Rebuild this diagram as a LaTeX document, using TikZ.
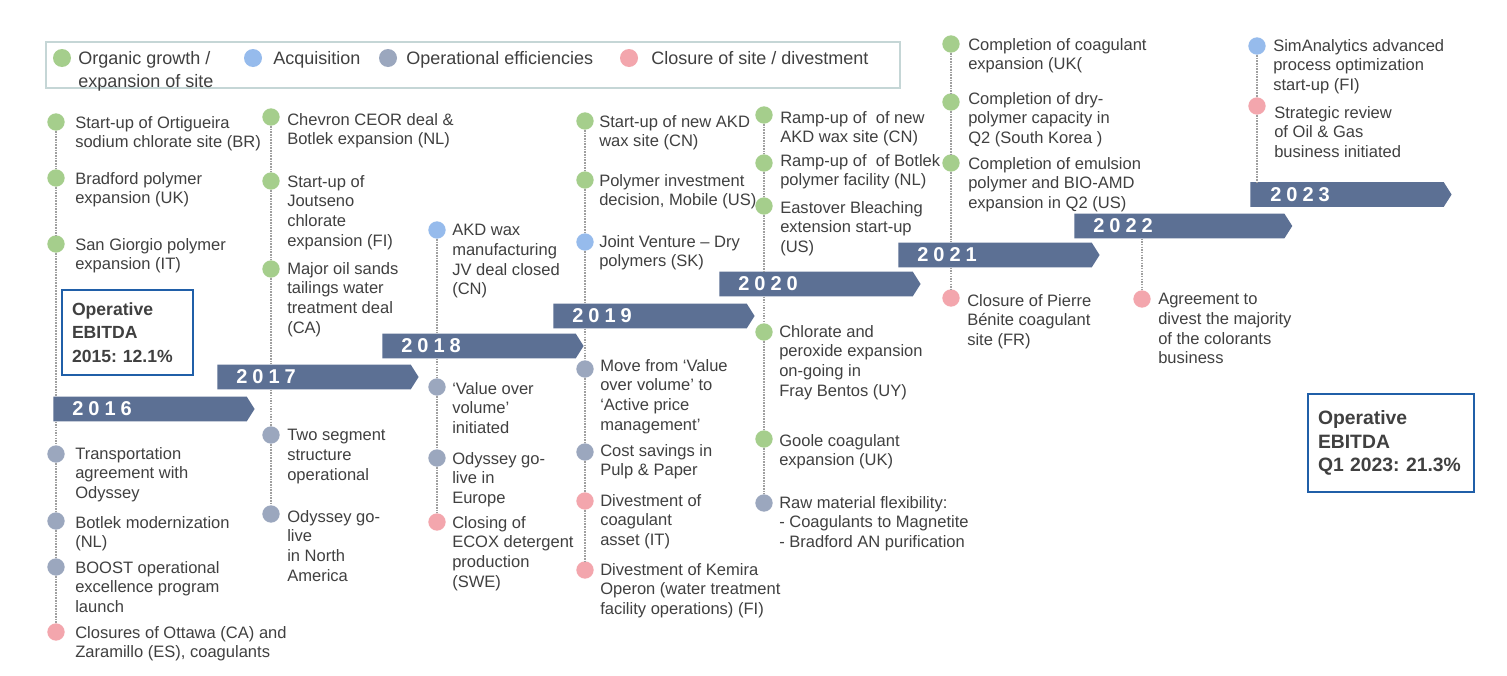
\documentclass[tikz,border=0pt]{standalone}
\usepackage{fontspec}
\setmainfont{Liberation Sans}
\newfontfamily\yearfont[LetterSpace=25]{Liberation Sans}
\usetikzlibrary{shapes.symbols}
\definecolor{txtgray}{RGB}{64,64,64}
\definecolor{growth}{RGB}{165,206,140}
\definecolor{acq}{RGB}{150,187,236}
\definecolor{opeff}{RGB}{155,167,190}
\definecolor{closure}{RGB}{243,166,173}
\definecolor{bannerblue}{RGB}{92,112,148}
\definecolor{legendline}{RGB}{197,214,214}
\definecolor{boxblue}{RGB}{32,95,168}
\definecolor{linegray}{RGB}{160,160,160}
\tikzset{
  evdot/.style={circle, inner sep=0pt, minimum size=13pt},
  lgdot/.style={circle, inner sep=0pt, minimum size=13.5pt},
  evtext/.style={anchor=north west, align=left, inner sep=0pt, text=txtgray,
    font=\fontsize{12.4pt}{14.8pt}\selectfont},
  lgtext/.style={anchor=north west, align=left, inner sep=0pt, text=txtgray,
    font=\fontsize{13.5pt}{17.25pt}\selectfont},
  banner/.style={signal, signal to=east, signal from=nowhere, signal pointer angle=115,
    fill=bannerblue, draw=none, inner sep=0pt, minimum height=18.4pt, minimum width=151pt, anchor=west},
  yeartxt/.style={anchor=west, inner sep=0pt, text=white,
    font=\yearfont\bfseries\fontsize{15pt}{18pt}\selectfont},
  vline/.style={draw=linegray, line width=0.9pt, dash pattern=on 1.2pt off 0.8pt},
  ebitda/.style={draw=boxblue, line width=1.5pt, align=left, text=txtgray, inner ysep=0pt, inner xsep=7.5pt}
}
\begin{document}
\begin{tikzpicture}[x=0.75pt, y=-0.75pt]
    \useasboundingbox[fill=white] (0, 0) rectangle (1507, 675);
    \draw[legendline, line width=1.2pt] (46, 42) rectangle (900, 88);
        \node[lgdot, fill=growth] (lgA) at (62, 58){};
        \node[lgtext] (lgAt) at (78, 51.5){Organic growth /\\expansion of site};
        \node[lgdot, fill=acq] (lgB) at (253, 58){};
        \node[lgtext] (lgBt) at (273, 51.5){Acquisition};
        \node[lgdot, fill=opeff] (lgC) at (388, 58){};
        \node[lgtext] (lgCt) at (406, 51.5){Operational efficiencies};
        \node[lgdot, fill=closure] (lgD) at (629, 58){};
        \node[lgtext] (lgDt) at (651, 51.5){Closure of site / divestment};

    \node[banner] (y16) at (53, 409){};
        \node[yeartxt] at (72, 409){2016};
    \node[banner] (y17) at (217, 377){};
        \node[yeartxt] at (236, 377){2017};
    \node[banner] (y18) at (382, 346){};
        \node[yeartxt] at (401, 346){2018};
    \node[banner] (y19) at (553, 316){};
        \node[yeartxt] at (572, 316){2019};
    \node[banner] (y20) at (719, 284){};
        \node[yeartxt] at (738, 284){2020};
    \node[banner] (y21) at (898, 255){};
        \node[yeartxt] at (917, 255){2021};
    \node[banner, minimum width=163.5pt] (y22) at (1074, 226){};
        \node[yeartxt] at (1093, 226){2022};
    \node[banner] (y23) at (1250, 194.5){};
        \node[yeartxt] at (1270, 194.5){2023};

    \node[evdot, fill=growth] (o16a) at (56, 122){};
        \node[evtext] (t16a) at (75, 116){Start-up of Ortigueira\\sodium chlorate site (BR)};
    \node[evdot, fill=growth] (o16b) at (56, 178){};
        \node[evtext] (t16b) at (75, 172){Bradford polymer\\expansion (UK)};
    \node[evdot, fill=growth] (o16c) at (56, 244){};
        \node[evtext] (t16c) at (75, 238){San Giorgio polymer\\expansion (IT)};
    \node[evdot, fill=opeff] (o16d) at (56, 454){};
        \node[evtext] (t16d) at (75, 447){Transportation\\agreement with\\Odyssey};
    \node[evdot, fill=opeff] (o16e) at (56, 521){};
        \node[evtext] (t16e) at (75, 516){Botlek modernization\\(NL)};
    \node[evdot, fill=opeff] (o16f) at (56, 567){};
        \node[evtext] (t16f) at (75, 561){BOOST operational\\excellence program\\launch};
    \node[evdot, fill=closure] (o16g) at (56, 632){};
        \node[evtext] (t16g) at (75, 626){Closures of Ottawa (CA) and\\Zaramillo (ES), coagulants};
    \draw[vline] (o16a) -- (o16b) -- (o16c) -- (o16c |- y16.north);
    \draw[vline] (o16d |- y16.south) -- (o16d) -- (o16e) -- (o16f) -- (o16g);

    \node[evdot, fill=growth] (o17a) at (271, 117){};
        \node[evtext] (t17a) at (287, 113){Chevron CEOR deal \&\\Botlek expansion (NL)};
    \node[evdot, fill=growth] (o17b) at (271, 181){};
        \node[evtext] (t17b) at (287, 175){Start-up of\\Joutseno\\chlorate\\expansion (FI)};
    \node[evdot, fill=growth] (o17c) at (271, 269){};
        \node[evtext] (t17c) at (287, 262){Major oil sands\\tailings water\\treatment deal\\(CA)};
    \node[evdot, fill=opeff] (o17d) at (271, 435){};
        \node[evtext] (t17d) at (287, 429){Two segment\\structure\\operational};
    \node[evdot, fill=opeff] (o17e) at (271, 514){};
        \node[evtext] (t17e) at (287, 510){Odyssey go-\\live\\in North\\America};
    \draw[vline] (o17a) -- (o17b) -- (o17c) -- (o17c |- y17.north);
    \draw[vline] (o17d |- y17.south) -- (o17d) -- (o17e);

    \node[evdot, fill=acq] (o18a) at (437, 230){};
        \node[evtext] (t18a) at (452, 224){AKD wax\\manufacturing\\JV deal closed\\(CN)};
    \node[evdot, fill=opeff] (o18b) at (437, 387){};
        \node[evtext] (t18b) at (452, 382){‘Value over\\volume’\\initiated};
    \node[evdot, fill=opeff] (o18c) at (437, 458){};
        \node[evtext] (t18c) at (452, 452){Odyssey go-\\live in\\Europe};
    \node[evdot, fill=closure] (o18d) at (437, 522){};
        \node[evtext] (t18d) at (452, 516){Closing of\\ECOX detergent\\production\\(SWE)};
    \draw[vline] (o18a) -- (o18a |- y18.north);
    \draw[vline] (o18b |- y18.south) -- (o18b) -- (o18c) -- (o18d);

    \node[evdot, fill=growth] (o19a) at (585, 121){};
        \node[evtext] (t19a) at (599, 115){Start-up of new AKD\\wax site (CN)};
    \node[evdot, fill=growth] (o19b) at (585, 180){};
        \node[evtext] (t19b) at (599, 174){Polymer investment\\decision, Mobile (US)};
    \node[evdot, fill=acq] (o19c) at (585, 242){};
        \node[evtext] (t19c) at (599, 235){Joint Venture – Dry\\polymers (SK)};
    \node[evdot, fill=opeff] (o19d) at (585, 369){};
        \node[evtext] (t19d) at (600, 359){Move from ‘Value\\over volume’ to\\‘Active price\\management’};
    \node[evdot, fill=opeff] (o19e) at (585, 452){};
        \node[evtext] (t19e) at (600, 444){Cost savings in\\Pulp \& Paper};
    \node[evdot, fill=closure] (o19f) at (585, 501){};
        \node[evtext] (t19f) at (600, 494){Divestment of\\coagulant\\asset (IT)};
    \node[evdot, fill=closure] (o19g) at (585, 570){};
        \node[evtext] (t19g) at (600, 563){Divestment of Kemira\\Operon (water treatment\\facility operations) (FI)};
    \draw[vline] (o19a) -- (o19b) -- (o19c) -- (o19c |- y19.north);
    \draw[vline] (o19d |- y19.south) -- (o19d) -- (o19e) -- (o19f) -- (o19g);

    \node[evdot, fill=growth] (o20a) at (764, 115){};
        \node[evtext] (t20a) at (780, 111){Ramp-up of \ of new\\AKD wax site (CN)};
    \node[evdot, fill=growth] (o20b) at (764, 163){};
        \node[evtext] (t20b) at (780, 154){Ramp-up of \ of Botlek\\polymer facility (NL)};
    \node[evdot, fill=growth] (o20c) at (764, 206){};
        \node[evtext] (t20c) at (780, 201){Eastover Bleaching\\extension start-up\\(US)};
    \node[evdot, fill=growth] (o20d) at (764, 332){};
        \node[evtext] (t20d) at (779, 325){Chlorate and\\peroxide expansion\\on-going in\\Fray Bentos (UY)};
    \node[evdot, fill=growth] (o20e) at (764, 439){};
        \node[evtext] (t20e) at (779, 434){Goole coagulant\\expansion (UK)};
    \node[evdot, fill=opeff] (o20f) at (764, 503){};
        \node[evtext] (t20f) at (779, 496){Raw material flexibility:\\- Coagulants to Magnetite\\- Bradford AN purification};
    \draw[vline] (o20a) -- (o20b) -- (o20c) -- (o20c |- y20.north);
    \draw[vline] (o20d |- y20.south) -- (o20d) -- (o20e) -- (o20f);

    \node[evdot, fill=growth] (o21a) at (951, 44){};
        \node[evtext] (t21a) at (968, 38){Completion of coagulant\\expansion (UK(};
    \node[evdot, fill=growth] (o21b) at (951, 102){};
        \node[evtext] (t21b) at (968, 92){Completion of dry-\\polymer capacity in\\Q2 (South Korea )};
    \node[evdot, fill=growth] (o21c) at (951, 163){};
        \node[evtext] (t21c) at (968, 157){Completion of emulsion\\polymer and BIO-AMD\\expansion in Q2 (US)};
    \node[evdot, fill=closure] (o21d) at (951, 298){};
        \node[evtext] (t21d) at (967, 294){Closure of Pierre\\Bénite coagulant\\site (FR)};
    \draw[vline] (o21a) -- (o21b) -- (o21c) -- (o21c |- y21.north);
    \draw[vline] (o21d |- y21.south) -- (o21d);

    \node[evdot, fill=closure] (o22a) at (1142, 299){};
        \node[evtext] (t22a) at (1158, 293){Agreement to\\divest the majority\\of the colorants\\business};
    \draw[vline] (o22a |- y22.south) -- (o22a);

    \node[evdot, fill=acq] (o23a) at (1257, 46){};
        \node[evtext] (t23a) at (1273, 39){SimAnalytics advanced\\process optimization\\start-up (FI)};
    \node[evdot, fill=closure] (o23b) at (1257, 106){};
        \node[evtext] (t23b) at (1274, 106){Strategic review\\of Oil \& Gas\\business initiated};
    \draw[vline] (o23a) -- (o23b) -- (o23b |- y23.north);

    \node[ebitda, font=\bfseries\fontsize{13.2pt}{17.6pt}\selectfont, text width=83.25pt,
        minimum width=98.25pt, minimum height=63.75pt] (eb15) at (127.5, 332.5){Operative\\EBITDA\\2015:~12.1\%};
    \node[ebitda, font=\bfseries\fontsize{14.5pt}{17.6pt}\selectfont, text width=109.5pt,
        minimum width=124.5pt, minimum height=73.5pt] (eb23) at (1391, 443){Operative\\EBITDA\\Q1~2023:~21.3\%};
\end{tikzpicture}
\end{document}
